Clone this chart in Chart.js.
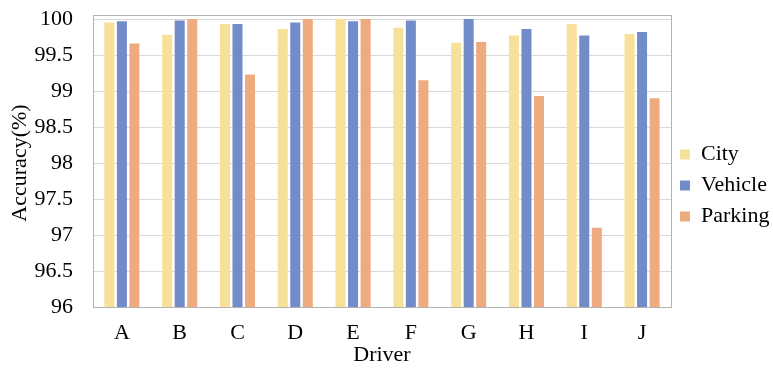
<!DOCTYPE html>
<html>
<head>
<meta charset="utf-8">
<script src="https://cdn.jsdelivr.net/npm/chart.js@4/dist/chart.umd.min.js"></script>
<style>
  html, body { margin: 0; padding: 0; background: #fff; }
  #wrap { width: 773px; height: 371px; }
</style>
</head>
<body>
<div id="wrap"><canvas id="chart" width="773" height="371"></canvas></div>
<script>
// data
const drivers = ['A', 'B', 'C', 'D', 'E', 'F', 'G', 'H', 'I', 'J'];
const cityAcc = [99.95, 99.78, 99.93, 99.86, 100, 99.88, 99.67, 99.77, 99.93, 99.79];
const vehicleAcc = [99.97, 99.98, 99.93, 99.95, 99.97, 99.98, 100, 99.86, 99.77, 99.82];
const parkingAcc = [99.66, 100, 99.23, 100, 100, 99.15, 99.68, 98.93, 97.1, 98.9];

const serif = "'Liberation Serif', 'Times New Roman', serif";
const txt = { family: serif, size: 22, lineHeight: 1 };

// grey frame round the plot area
const frame = {
    id: 'frame',
    afterDraw(chart) {
        const a = chart.chartArea, ctx = chart.ctx;
        ctx.save();
        ctx.strokeStyle = '#b3b3b3';
        ctx.lineWidth = 1;
        ctx.strokeRect(Math.round(a.left) + 0.5, Math.round(a.top) - 3.5, Math.round(a.right - a.left), Math.round(a.bottom - a.top) + 4);
        ctx.restore();
    }
};

new Chart(document.getElementById('chart'), {
    type: 'bar',
    data: {
        labels: drivers,
        datasets: [
            { label: 'City', data: cityAcc, backgroundColor: '#f7e09a' },
            { label: 'Vehicle', data: vehicleAcc, backgroundColor: '#728bc9' },
            { label: 'Parking', data: parkingAcc, backgroundColor: '#eeab7f' }
        ]
    },
    options: {
        responsive: false,
        animation: false,
        datasets: { bar: { categoryPercentage: 0.65, barPercentage: 0.8 } },
        layout: { padding: { top: 0, left: 2, right: -6.4, bottom: 0 } },
        plugins: {
            legend: {
                position: 'right',
                labels: {
                    boxWidth: 10, boxHeight: 10, padding: 9,
                    color: '#000', font: { family: serif, size: 22 }
                }
            },
            tooltip: { enabled: false }
        },
        scales: {
            x: {
                grid: { display: false, drawTicks: false },
                border: { display: false },
                ticks: { color: '#000', padding: 15, font: txt },
                title: { display: true, text: 'Driver', color: '#000', padding: { top: -15, bottom: 5 }, font: txt }
            },
            y: {
                min: 96, max: 100,
                grid: { color: '#d9d9d9', drawTicks: false },
                border: { display: false },
                ticks: { stepSize: 0.5, color: '#000', padding: 20, font: txt, callback: v => String(v) },
                title: { display: true, text: 'Accuracy(%)', color: '#000', padding: { top: 7, bottom: -16.5 }, font: txt },
                afterFit: s => { s.paddingTop = 19; }
            }
        }
    },
    plugins: [frame]
});
</script>
</body>
</html>
